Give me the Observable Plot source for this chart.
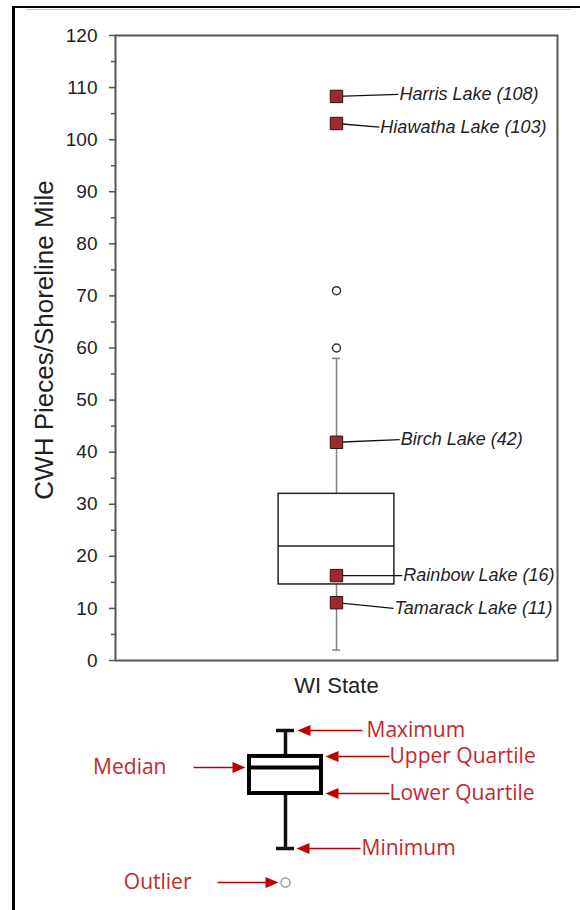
<!DOCTYPE html>
<html><head><meta charset="utf-8">
<script src="https://cdn.jsdelivr.net/npm/d3@7"></script>
<script src="https://cdn.jsdelivr.net/npm/@observablehq/plot@0.6"></script>
<style>
body{margin:0;background:#fff;}
#page{position:relative;width:580px;height:910px;overflow:hidden;background:#fff;}
#main{position:absolute;left:0;top:0;}
#legend{position:absolute;left:0;top:700px;}
#borderL{position:absolute;left:12px;top:6px;width:3px;height:904px;background:#000;}
#borderT{position:absolute;left:12px;top:6px;width:568px;height:2px;background:#000;}
#borderT2{position:absolute;left:26px;top:9px;width:545px;height:1px;background:#c8c8c8;}
</style></head><body>
<div id="page"><div id="main"></div><div id="legend"></div><div id="borderL"></div><div id="borderT"></div><div id="borderT2"></div></div>
<script>
// ---------- DATA ----------
const categories = ["WI State"];
const yTicks = [0, 10, 20, 30, 40, 50, 60, 70, 80, 90, 100, 110, 120];
const yMinorTicks = [5, 15, 25, 35, 45, 55, 65, 75, 85, 95, 105, 115];
const yLabel = "CWH Pieces/Shoreline Mile";

// box statistics (WI State)
const statNames = ["min", "q1", "median", "q3", "max"];
const statValues = [2, 14.6, 22, 32, 58];
const outlierValues = [60, 71];

// highlighted lakes
const lakeNames = ["Harris Lake", "Hiawatha Lake", "Birch Lake", "Rainbow Lake", "Tamarack Lake"];
const lakeValues = [108.3, 103.1, 41.9, 16.3, 11.1];
const lakeLabelValues = [108, 103, 42, 16, 11];

// legend (schematic box plot)
const legendLabels = ["Maximum", "Upper Quartile", "Median", "Lower Quartile", "Minimum", "Outlier"];
const legendKeys = ["max", "q3", "median", "q1", "min", "outlier"];
const legendSchematic = [10, 7.8, 6.86, 4.66, 0, -2.88];

// ---------- LAYOUT (annotation placement, not data) ----------
const boxHalf = 0.131, capHalf = 0.009;
const lakeLabelX = [0.640, 0.597, 0.643, 0.649, 0.629];   // x units of label start
const lakeLabelY = [108.7, 102.4, 42.4, 16.3, 10.0];      // y units of label centre

const legendCenter = 285, legendBoxHalf = 36, legendCapHalf = 9;
const legendArrow = {
  "Maximum":        {tip: 297, tail: 362, textX: 366, dir: "left"},
  "Upper Quartile": {tip: 325, tail: 389, textX: 389, dir: "left"},
  "Median":         {tip: 245, tail: 193, textX: 166, dir: "right"},
  "Lower Quartile": {tip: 325, tail: 389, textX: 389, dir: "left"},
  "Minimum":        {tip: 296, tail: 360, textX: 361, dir: "left"},
  "Outlier":        {tip: 278, tail: 217, textX: 191, dir: "right"}
};

// ---------- TABLES ----------
const stats = Object.fromEntries(statNames.map((k, i) => [k, statValues[i]]));
const boxes = categories.map((c, i) => ({cat: c, cx: i + 0.5, ...stats}));
const outliers = outlierValues.map(v => ({cx: 0.5, v}));
const lakes = lakeNames.map((n, i) => ({
  cx: 0.5, value: lakeValues[i], label: `${n} (${lakeLabelValues[i]})`,
  lx: lakeLabelX[i], ly: lakeLabelY[i]
}));

const font = "'Liberation Sans', Arial, sans-serif";

const main = Plot.plot({
  width: 580, height: 700,
  marginLeft: 115, marginRight: 23, marginTop: 35, marginBottom: 40,
  style: {fontFamily: font, background: "transparent", color: "#222"},
  x: {domain: [0, categories.length], axis: null},
  y: {domain: [0, 120], axis: null},
  marks: [
    Plot.axisY({ticks: yMinorTicks, tickSize: 4, tickFormat: () => "", label: null, stroke: "#555", strokeWidth: 1.5}),
    Plot.axisY({ticks: yTicks, tickSize: 6, tickPadding: 12, fontSize: 19, label: null, stroke: "#555", strokeWidth: 1.5, fill: "#222"}),
    Plot.axisX({ticks: boxes.map(d => d.cx), tickFormat: t => categories[Math.floor(t)], tickSize: 0, tickPadding: 17, fontSize: 22, label: null, fill: "#222"}),
    Plot.text([yLabel], {frameAnchor: "left", rotate: -90, dx: -71, dy: -8, fontSize: 26, fill: "#222", textAnchor: "middle", lineAnchor: "middle"}),
    // whiskers
    Plot.ruleX(boxes, {x: "cx", y1: "min", y2: "q1", stroke: "#808080", strokeWidth: 1.5}),
    Plot.ruleX(boxes, {x: "cx", y1: "q3", y2: "max", stroke: "#808080", strokeWidth: 1.5}),
    Plot.ruleY(boxes, {y: "min", x1: d => d.cx - capHalf, x2: d => d.cx + capHalf, stroke: "#808080", strokeWidth: 1.5}),
    Plot.ruleY(boxes, {y: "max", x1: d => d.cx - capHalf, x2: d => d.cx + capHalf, stroke: "#808080", strokeWidth: 1.5}),
    // box
    Plot.rect(boxes, {x1: d => d.cx - boxHalf, x2: d => d.cx + boxHalf, y1: "q1", y2: "q3", fill: "white", stroke: "#222", strokeWidth: 1.5}),
    Plot.ruleY(boxes, {y: "median", x1: d => d.cx - boxHalf, x2: d => d.cx + boxHalf, stroke: "#222", strokeWidth: 1.5}),
    // outliers
    Plot.dot(outliers, {x: "cx", y: "v", r: 4, fill: "white", stroke: "#333", strokeWidth: 1.5}),
    // lake annotations
    Plot.link(lakes, {x1: "cx", y1: "value", x2: "lx", y2: "ly", stroke: "#111", strokeWidth: 1.3}),
    Plot.dot(lakes, {x: "cx", y: "value", symbol: "square", r: 7, fill: "#9e2a2b", stroke: "#2a1515", strokeWidth: 1}),
    Plot.text(lakes, {x: "lx", y: "ly", text: "label", textAnchor: "start", lineAnchor: "middle", fontStyle: "italic", fontSize: 18, fill: "#222", dx: 1}),
    Plot.frame({stroke: "#555", strokeWidth: 2})
  ]
});
document.getElementById("main").appendChild(main);

// ---------- LEGEND ----------
const lstat = Object.fromEntries(legendKeys.map((k, i) => [k, legendSchematic[i]]));
const lbox = [{cx: legendCenter, ...lstat}];
const notes = legendLabels.map((l, i) => ({label: l, y: legendSchematic[i], ...legendArrow[l]}));
const notesL = notes.filter(d => d.dir === "left");
const notesR = notes.filter(d => d.dir === "right");
const headLeft = {draw(ctx) { ctx.moveTo(0, 0); ctx.lineTo(13, -5.5); ctx.lineTo(13, 5.5); ctx.closePath(); }};
const headRight = {draw(ctx) { ctx.moveTo(0, 0); ctx.lineTo(-13, -5.5); ctx.lineTo(-13, 5.5); ctx.closePath(); }};
const red = "#c00000", redText = "#c0282d";

const legend = Plot.plot({
  width: 580, height: 210,
  marginLeft: 0, marginRight: 0, marginTop: 0, marginBottom: 0,
  style: {fontFamily: "'Open Sans', sans-serif", background: "transparent"},
  x: {domain: [0, 580], range: [0, 580], axis: null},
  y: {domain: [0, 10], range: [148, 30], axis: null},
  marks: [
    Plot.ruleX(lbox, {x: "cx", y1: "min", y2: "q1", stroke: "#111", strokeWidth: 3.5}),
    Plot.ruleX(lbox, {x: "cx", y1: "q3", y2: "max", stroke: "#111", strokeWidth: 3.5}),
    Plot.ruleY(lbox, {y: "min", x1: d => d.cx - legendCapHalf, x2: d => d.cx + legendCapHalf, stroke: "#111", strokeWidth: 3.5}),
    Plot.ruleY(lbox, {y: "max", x1: d => d.cx - legendCapHalf, x2: d => d.cx + legendCapHalf, stroke: "#111", strokeWidth: 3.5}),
    Plot.rect(lbox, {x1: d => d.cx - legendBoxHalf, x2: d => d.cx + legendBoxHalf, y1: "q1", y2: "q3", fill: "white", stroke: "#000", strokeWidth: 4}),
    Plot.ruleY(lbox, {y: "median", x1: d => d.cx - legendBoxHalf, x2: d => d.cx + legendBoxHalf, stroke: "#000", strokeWidth: 4}),
    Plot.dot(lbox, {x: "cx", y: "outlier", r: 4.5, fill: "white", stroke: "#a0a0a0", strokeWidth: 1.5}),
    Plot.link(notesL, {x1: "tail", x2: d => d.tip + 10, y1: "y", y2: "y", stroke: red, strokeWidth: 1.6}),
    Plot.link(notesR, {x1: "tail", x2: d => d.tip - 10, y1: "y", y2: "y", stroke: red, strokeWidth: 1.6}),
    Plot.dot(notesL, {x: "tip", y: "y", symbol: headLeft, r: 6, fill: red, stroke: null}),
    Plot.dot(notesR, {x: "tip", y: "y", symbol: headRight, r: 6, fill: red, stroke: null}),
    Plot.text(notesL, {x: "textX", y: "y", text: "label", textAnchor: "start", lineAnchor: "middle", fontSize: 21, fill: redText}),
    Plot.text(notesR, {x: "textX", y: "y", text: "label", textAnchor: "end", lineAnchor: "middle", fontSize: 21, fill: redText})
  ]
});
document.getElementById("legend").appendChild(legend);
</script>
</body></html>
